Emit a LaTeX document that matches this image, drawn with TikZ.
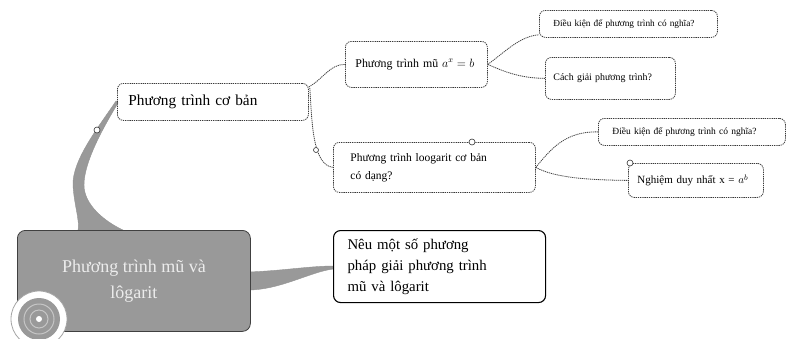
\documentclass[tikz,border=0pt]{standalone}
\usepackage{fontspec}
\setmainfont{Liberation Serif}
\usetikzlibrary{calc}
\tikzset{
  bx/.style={draw=gray!45!black, dash pattern=on 1.3pt off 0.9pt, line width=0.8pt,
    rounded corners=6pt, align=left, anchor=north west, inner ysep=0pt, text=black},
  lnk/.style={draw=gray!50!black, dash pattern=on 1.2pt off 0.8pt, line width=0.8pt},
  trunk/.style={fill=gray!80, draw=gray!85, line width=0.4pt},
  knot/.style={draw=gray!40!black, fill=white, line width=0.6pt}
}
\begin{document}
\begin{tikzpicture}[x=1pt,y=-1pt]
\useasboundingbox[fill=white] (0,0) rectangle (786,338);

% tapered trunks
\fill[trunk] (116,101) .. controls (100,125) and (72,160) .. (73,185)
  .. controls (74,205) and (80,220) .. (78,231) -- (125,231)
  .. controls (105,222) and (84,205) .. (84,185)
  .. controls (84,162) and (103,128) .. (118,103) -- cycle;
\fill[trunk] (248,272) .. controls (280,271) and (310,266) .. (333,266)
  -- (333,269) .. controls (310,272) and (280,290) .. (248,290) -- cycle;

% central node
\node[draw=gray!50!black, fill=gray!80, rounded corners=8pt, line width=0.8pt,
  anchor=north west, minimum width=233pt, minimum height=101pt, inner sep=0pt,
  align=center, text=gray!15, font=\fontsize{18}{26}\selectfont]
  (ct) at (17,230) {Phương trình mũ và\\lôgarit};
\draw[draw=gray!70, fill=white, line width=0.8pt] (39,319) circle (28);
\fill[gray!80] (39,319) circle (21);
\draw[gray!45, line width=1pt] (39,319) circle (15);
\draw[gray!45, line width=1pt] (39,319) circle (9);
\fill[white] (39,319) circle (3);

% boxes
\node[bx, minimum width=191pt, minimum height=37pt, inner xsep=11pt, text width=169pt,
  font=\fontsize{15.3}{18}\selectfont] (cb) at (117,83) {Phương trình cơ bản};
\node[bx, minimum width=142pt, minimum height=46pt, inner xsep=10pt, text width=122pt,
  font=\fontsize{11.9}{14}\selectfont] (mu) at (345,41) {Phương trình mũ $a^x = b$};
\node[bx, minimum width=174pt, minimum height=27pt, inner xsep=14pt, text width=150pt,
  font=\fontsize{9.3}{11}\selectfont] (dk1) at (539,10) {Điều kiện để phương trình có nghĩa?};
\node[bx, minimum width=130pt, minimum height=42pt, inner xsep=8pt, text width=114pt,
  font=\fontsize{9.9}{11}\selectfont] (cg) at (545,57) {Cách giải phương trình?};
\node[bx, minimum width=202pt, minimum height=50pt, inner xsep=17pt, text width=168pt,
  font=\fontsize{11.5}{18}\selectfont] (lg) at (333,142) {Phương trình loogarit cơ bản\\có dạng?};
\node[bx, minimum width=187pt, minimum height=27pt, inner xsep=14pt, text width=159pt,
  font=\fontsize{9.5}{11}\selectfont] (dk2) at (598,118) {Điều kiện để phương trình có nghĩa?};
\node[bx, minimum width=135pt, minimum height=34pt, inner xsep=9pt, text width=117pt,
  font=\fontsize{11}{14}\selectfont] (ng) at (628,163) {Nghiệm duy nhất x = $a^b$};
\node[draw=black, line width=1.1pt, rounded corners=7pt, anchor=north west, align=left,
  minimum width=212pt, minimum height=72pt, inner xsep=14pt, inner ysep=0pt, text width=184pt,
  font=\fontsize{14.8}{21}\selectfont] (neu) at (333,230)
  {Nêu một số phương\\pháp giải phương trình\\mũ và lôgarit};

% thin connectors
\draw[lnk] ($(cb.north east)+(0,4)$) .. controls (322,80) and (330,64) .. (mu.west);
\draw[lnk] ($(cb.north east)+(1,5)$) .. controls (312,120) and (312,165) .. (lg.west);
\draw[lnk] (mu.east) .. controls (505,52) and (520,36) .. ($(dk1.south west)+(0,-3)$);
\draw[lnk] (mu.east) .. controls (505,72) and (520,78) .. (cg.west);
\draw[lnk] (lg.east) .. controls (550,150) and (565,131) .. (dk2.west);
\draw[lnk] (lg.east) .. controls (555,178) and (590,180) .. (ng.west);

% knots
\draw[knot] (97,130) circle (3);
\draw[knot] (316,150) circle (2.5);
\draw[knot] (472,142) circle (3);
\draw[knot] (630,163) circle (3);
\end{tikzpicture}
\end{document}
